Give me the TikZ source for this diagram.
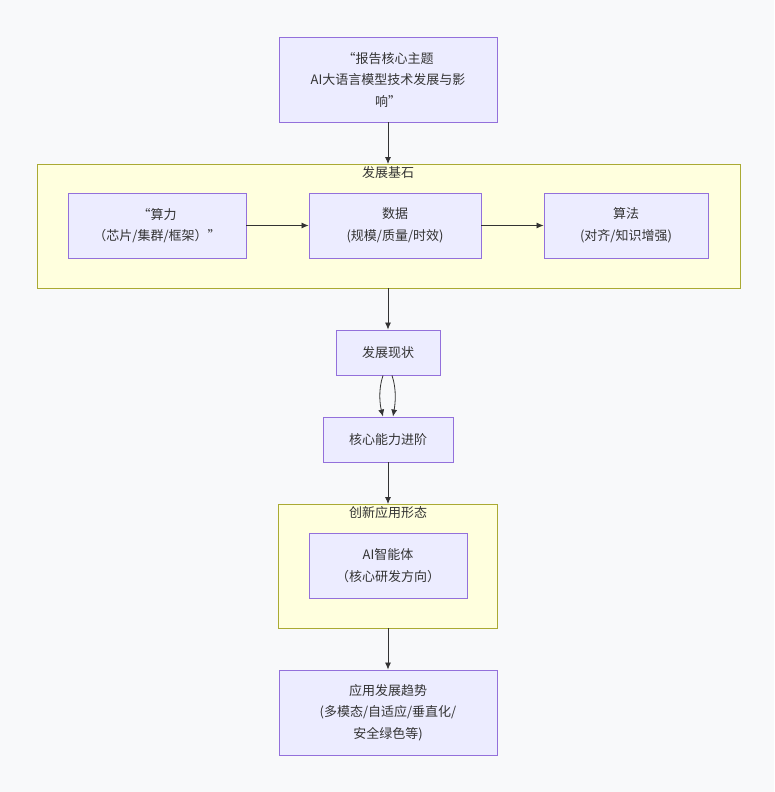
\documentclass[tikz,border=0pt]{standalone}
\usepackage{fontspec}
\newfontfamily\cjk{Noto Sans CJK SC}
\usetikzlibrary{arrows.meta}
\definecolor{pagebg}{HTML}{F8F9FA}
\definecolor{boxfill}{HTML}{ECECFF}
\definecolor{boxline}{HTML}{9370DB}
\definecolor{groupfill}{HTML}{FFFFDE}
\definecolor{groupline}{HTML}{AAAA33}
\definecolor{ink}{HTML}{333333}
\tikzset{
  box/.style={draw=boxline, fill=boxfill, line width=0.9pt, align=center, text=ink,
    font=\cjk\fontsize{13}{21.5}\selectfont, inner sep=0pt},
  group/.style={draw=groupline, fill=groupfill, line width=0.9pt},
  grouplabel/.style={text=ink, font=\cjk\fontsize{13}{16}\selectfont},
  flow/.style={draw=ink, line width=0.8pt, -{Latex[length=7pt,width=6pt]}}
}
\begin{document}
\begin{tikzpicture}[x=1pt, y=-1pt]
  \fill[pagebg] (0,0) rectangle (774,792);
  \useasboundingbox (0,0) rectangle (774,792);
  % subgraphs
  \draw[group] (37,164) rectangle (740,288);
  \coordinate (baseTop) at (388,164);
  \coordinate (baseBot) at (388,288);
  \node[grouplabel] (baseLbl) at (388,173) {发展基石};
  \draw[group] (278,504) rectangle (497,628);
  \coordinate (appTop) at (388,504);
  \coordinate (appBot) at (388,628);
  \node[grouplabel] (appLbl) at (388,513) {创新应用形态};
  % nodes
  \node[box, minimum width=218, minimum height=85] (theme) at (388,79.5)
    {“报告核心主题\\AI大语言模型技术发展与影\\响”};
  \node[box, minimum width=178, minimum height=65] (compute) at (157,225.5)
    {“算力\\（芯片/集群/框架）”};
  \node[box, minimum width=172, minimum height=65] (data) at (395,225.5)
    {数据\\(规模/质量/时效)};
  \node[box, minimum width=164, minimum height=65] (algo) at (626,225.5)
    {算法\\(对齐/知识增强)};
  \node[box, minimum width=104, minimum height=45] (status) at (388,352.5) {发展现状};
  \node[box, minimum width=130, minimum height=45] (ability) at (388,439.5) {核心能力进阶};
  \node[box, minimum width=158, minimum height=65] (agent) at (388,565.5)
    {AI智能体\\（核心研发方向）};
  \node[box, minimum width=218, minimum height=85] (trend) at (388,712.5)
    {应用发展趋势\\(多模态/自适应/垂直化/\\安全绿色等)};
  % edges
  \draw[flow] (theme.south) -- (baseTop);
  \draw[flow] (compute.east) -- (data.west);
  \draw[flow] (data.east) -- (algo.west);
  \draw[flow] (baseBot) -- (status.north);
  \draw[flow] ([xshift=-5]status.south) .. controls (378,390) and (380,405) .. ([xshift=-5]ability.north);
  \draw[flow] ([xshift=4]status.south) .. controls (397,390) and (395,405) .. ([xshift=5]ability.north);
  \draw[flow] (ability.south) -- (appTop);
  \draw[flow] (appBot) -- (trend.north);
\end{tikzpicture}
\end{document}
